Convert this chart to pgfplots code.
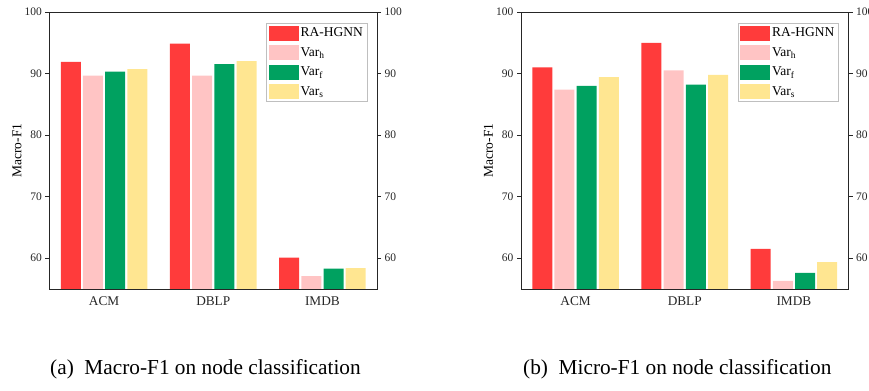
\documentclass[border=0pt]{standalone}
\usepackage{pgfplots}
\pgfplotsset{compat=1.18}
\usepackage{fontspec}
\setmainfont{Liberation Serif}
\definecolor{cRed}{RGB}{255,59,59}
\definecolor{cPink}{RGB}{255,196,196}
\definecolor{cGreen}{RGB}{0,161,96}
\definecolor{cYellow}{RGB}{255,230,145}
\pgfplotsset{
  panel/.style={
    scale only axis, width=327.5bp, height=277bp,
    ymin=55, ymax=100, xmin=-0.5, xmax=2.5,
    ytick={60,70,80,90,100},
    xtick={0,1,2}, xticklabels={ACM,DBLP,IMDB},
    x tick style={draw=none},
    tick align=outside, major tick length=4bp,
    ytick pos=left,
    axis line style={line width=0.9bp, black!85},
    y tick style={line width=0.9bp, black!85},
    /pgf/number format/assume math mode=true,
    yticklabel style={font=\fontsize{11.5bp}{13bp}\selectfont, text=black!85},
    xticklabel style={font=\fontsize{13.3bp}{15bp}\selectfont, text=black!85},
    ylabel=Macro-F1,
    ylabel style={font=\fontsize{13.5bp}{15bp}\selectfont, at={(axis description cs:-0.099,0.5)}, anchor=center, rotate=0},
    legend style={at={(1,1)}, anchor=north east, xshift=-10bp, yshift=-11bp,
      draw=black!25, font=\fontsize{13.5bp}{15bp}\selectfont, row sep=4.5bp,
      inner xsep=2bp, inner ysep=2.5bp},
    legend cell align=left,
  },
  rpanel/.style={
    scale only axis, width=327.5bp, height=277bp,
    ymin=55, ymax=100, xmin=-0.5, xmax=2.5,
    ytick={60,70,80,90,100},
    hide x axis, axis y line*=right,
    tick align=outside, major tick length=4bp,
    axis line style={line width=0.9bp, black!85},
    y tick style={line width=0.9bp, black!85},
    /pgf/number format/assume math mode=true,
    yticklabel style={font=\fontsize{11.5bp}{13bp}\selectfont, text=black!85},
  },
  mybar/.style={ybar, bar width=0.183, draw=none,
    legend image code/.code={\path[##1,draw=none] (0bp,-7.5bp) rectangle (30bp,7.5bp);}},
}
\begin{document}
\begin{tikzpicture}
\useasboundingbox (0,0) rectangle (869bp,391bp);
% ---- (a) Macro-F1
\begin{axis}[panel, at={(49.5bp,102bp)}, anchor=south west]
\addplot[mybar, fill=cRed, bar shift=-0.305] coordinates {(0,91.9) (1,94.85) (2,60.1)};
\addplot[mybar, fill=cPink, bar shift=-0.102] coordinates {(0,89.65) (1,89.65) (2,57.1)};
\addplot[mybar, fill=cGreen, bar shift=0.102] coordinates {(0,90.3) (1,91.55) (2,58.3)};
\addplot[mybar, fill=cYellow, bar shift=0.305] coordinates {(0,90.7) (1,92.0) (2,58.4)};
\legend{RA-HGNN, Var\textsubscript{h}, Var\textsubscript{f}, Var\textsubscript{s}}
\end{axis}
\begin{axis}[rpanel, at={(49.5bp,102bp)}, anchor=south west]
\end{axis}
% ---- (b) Micro-F1
\begin{axis}[panel, at={(521bp,102bp)}, anchor=south west]
\addplot[mybar, fill=cRed, bar shift=-0.305] coordinates {(0,91.0) (1,95.0) (2,61.5)};
\addplot[mybar, fill=cPink, bar shift=-0.102] coordinates {(0,87.4) (1,90.5) (2,56.3)};
\addplot[mybar, fill=cGreen, bar shift=0.102] coordinates {(0,88.0) (1,88.2) (2,57.6)};
\addplot[mybar, fill=cYellow, bar shift=0.305] coordinates {(0,89.4) (1,89.8) (2,59.35)};
\legend{RA-HGNN, Var\textsubscript{h}, Var\textsubscript{f}, Var\textsubscript{s}}
\end{axis}
\begin{axis}[rpanel, at={(521bp,102bp)}, anchor=south west]
\end{axis}
% captions
\node[anchor=base west, font=\fontsize{21.3bp}{24bp}\selectfont, inner sep=0pt] at (50bp,17bp) {(a)\enspace Macro-F1 on node classification};
\node[anchor=base west, font=\fontsize{21.3bp}{24bp}\selectfont, inner sep=0pt] at (523bp,17bp) {(b)\enspace Micro-F1 on node classification};
\end{tikzpicture}
\end{document}
